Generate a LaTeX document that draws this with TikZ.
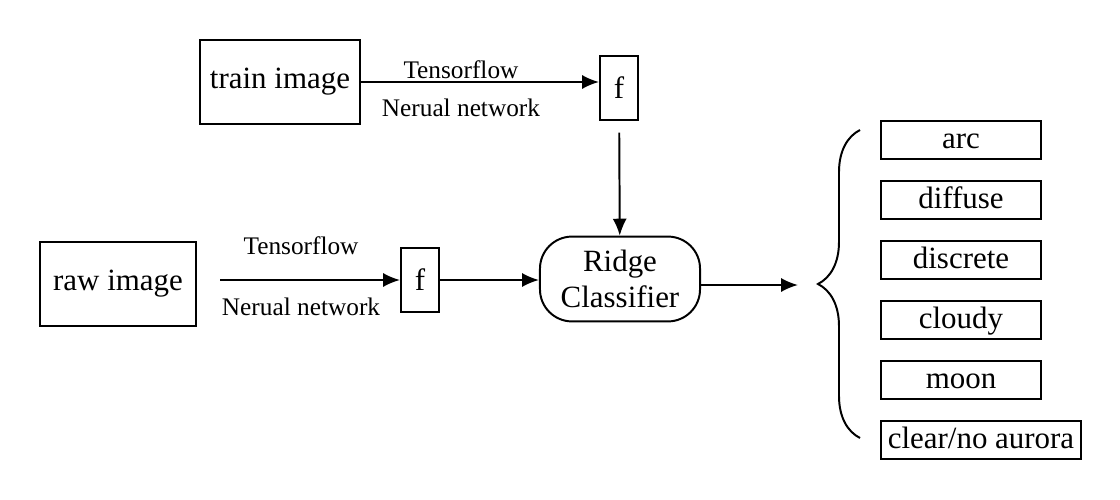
\documentclass[tikz,border=0pt]{standalone}
\usepackage{fontspec}
\setmainfont{Liberation Serif}
\usetikzlibrary{positioning,arrows.meta,decorations.pathreplacing}

\begin{document}
\begin{tikzpicture}[x=0.025cm, y=-0.025cm, line width=1.4pt,
  imgbox/.style={draw, minimum width=4cm, minimum height=2.12cm, font=\fontsize{22}{26}\selectfont},
  fbox/.style={draw, minimum width=0.95cm, minimum height=1.58cm, font=\fontsize{22}{26}\selectfont},
  classbox/.style={draw, anchor=west, minimum width=4cm, minimum height=0.95cm, inner sep=2pt,
    text height=15pt, text depth=3pt, font=\fontsize{22}{26}\selectfont},
  lbl/.style={font=\fontsize{18}{22}\selectfont},
  arr/.style={-{Latex[length=12pt,width=10pt]}}]

\useasboundingbox (0,0) rectangle (1120,500);

% Training branch
\node[imgbox] (train) at (280,82) {train image};
\node[fbox] (ftop) at (619,88) {f};

% Input branch
\node[imgbox, minimum width=3.92cm, minimum height=2.1cm] (raw) at (118,284) {raw image};
\coordinate (rawout) at (220,280);
\node[fbox] (fbot) at (420,280) {f};

% Classifier
\node[draw, rounded corners=0.8cm, minimum width=4cm, minimum height=2.12cm, align=center,
      font=\fontsize{22}{26}\selectfont] (ridge) at (620,279) {Ridge\\Classifier};
\coordinate (brtip) at (798,285);

% Classes
\node[classbox] (arc) at (880,140) {arc};
\node[classbox] (diffuse) at (880,200) {diffuse};
\node[classbox] (discrete) at (880,260) {discrete};
\node[classbox] (cloudy) at (880,320) {cloudy};
\node[classbox] (moon) at (880,380) {moon};
\node[classbox, minimum width=5cm] (clear) at (880,440) {clear/no aurora};

% Connectors
\draw[arr] (train) -- node[lbl, pos=0.42, above=-2pt] {Tensorflow}
  node[lbl, pos=0.42, below=8pt] {Nerual network} (ftop.west |- train);
\draw[arr, shorten <=0.3cm] (ftop) -- (ridge);
\draw[arr] (rawout) -- node[lbl, pos=0.45, above=0.5cm] {Tensorflow}
  node[lbl, pos=0.45, below=0.3cm] {Nerual network} (fbot);
\draw[arr] (fbot) -- (ridge.west |- fbot);
\draw[arr] (ridge.east |- brtip) -- (brtip);

\draw[decorate, decoration={brace, amplitude=1.05cm}] (860,438) -- (860,130);

\end{tikzpicture}
\end{document}
